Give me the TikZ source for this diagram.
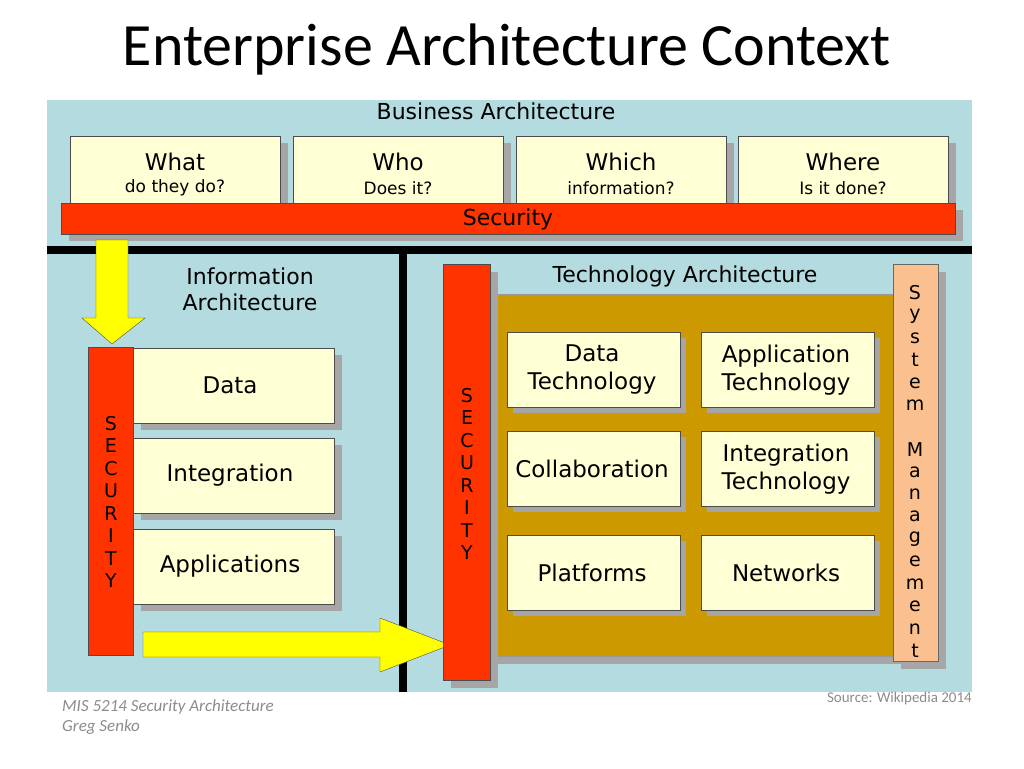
\documentclass[tikz,border=0pt]{standalone}
\usepackage{fontspec}
\setmainfont{DejaVu Sans}
\newfontfamily\calib{Carlito}
\begin{document}
\begin{tikzpicture}[x=1pt,y=-1pt,
  cream/.style={draw=black!70,line width=0.6pt,fill=boxc},
  shad/.style={fill=black!35,draw=none},
  lab/.style={font=\fontsize{22}{26}\selectfont,align=center,inner sep=0},
  slet/.style={font=\fontsize{19}{19}\selectfont,inner sep=0}]
\definecolor{bgc}{HTML}{B4DCE0}
\definecolor{boxc}{HTML}{FFFFD5}
\definecolor{secc}{HTML}{FF3300}
\definecolor{gold}{HTML}{CC9900}
\definecolor{peach}{HTML}{FAC090}
\definecolor{ylw}{HTML}{FFFF00}
\useasboundingbox (0,0) rectangle (1024,768);
\fill[white] (0,0) rectangle (1024,768);
\node[font=\calib\fontsize{60}{62}\selectfont] (title) at (507,50) {Enterprise Architecture Context};
\fill[bgc] (47,100) rectangle (972,692);
\node[lab] (ba) at (496,111) {Business Architecture};
% top boxes
\foreach \x/\a/\b/\n in {70/What/do they do?/t1,293/Who/Does it?/t2,516/Which/information?/t3,738/Where/Is it done?/t4}{
  \fill[shad] (\x+8,143) rectangle (\x+218,210);
  \node[cream,minimum width=210,minimum height=67,anchor=north west,inner sep=0] (\n) at (\x,136) {};
  \node[lab,font=\fontsize{23}{24}\selectfont] at (\x+105,162) {\a};
  \node[lab,font=\fontsize{17}{18}\selectfont] at (\x+105,188) {\b};
}
\fill[shad] (69,210) rectangle (963,241);
\node[draw=black!70,fill=secc,minimum width=894,minimum height=31,anchor=north west,inner sep=0] (sec) at (61,203) {};
\node[lab] at (508,219) {Security};
% black dividers
\fill[black] (47,246) rectangle (972,254);
\fill[black] (399,254) rectangle (407,692);
% down arrow
\draw[black!70,fill=ylw] (96,240) -- (128,240) -- (128,318) -- (145,318) -- (112,344) -- (82,318) -- (96,318) -- cycle;
\node[lab] (ia) at (250,289) {Information\\Architecture};
% left security
\node[draw=black!70,fill=secc,minimum width=45,minimum height=308,anchor=north west,inner sep=0] (lsec) at (88,347) {};
\foreach \l [count=\i] in {S,E,C,U,R,I,T,Y}
  \node[slet] at (111,401+\i*22.5) {\l};
\foreach \y/\t/\n in {348/Data/ld,438/Integration/li,529/Applications/la}{
  \fill[shad] (141,\y+7) rectangle (342,\y+82);
  \node[cream,minimum width=201,minimum height=75,anchor=north west,inner sep=0] (\n) at (133,\y) {};
  \node[lab,font=\fontsize{23}{24}\selectfont] at (230,\y+37) {\t};
}
% right arrow
\draw[black!70,fill=ylw] (143,632) -- (380,632) -- (380,618) -- (450,645) -- (380,672) -- (380,657) -- (143,657) -- cycle;
% right side
\fill[shad] (498,302) rectangle (901,664);
\node[fill=gold,draw=black!40,minimum width=403,minimum height=362,anchor=north west,inner sep=0] (gold) at (490,294) {};
\fill[shad] (451,272) rectangle (498,688);
\node[draw=black!70,fill=secc,minimum width=47,minimum height=416,anchor=north west,inner sep=0] (rsec) at (443,264) {};
\foreach \l [count=\i] in {S,E,C,U,R,I,T,Y}
  \node[slet] at (467,373+\i*22.5) {\l};
\node[lab] (ta) at (685,276) {Technology Architecture};
\foreach \x/\y/\t/\n in {507/332/Data\\Technology/b1,701/332/Application\\Technology/b2,507/431/Collaboration/b3,701/431/Integration\\Technology/b4,507/535/Platforms/b5,701/535/Networks/b6}{
  \fill[shad] (\x+6,\y+6) rectangle (\x+179,\y+81);
  \node[cream,minimum width=173,minimum height=75,anchor=north west,inner sep=0] (\n) at (\x,\y) {};
  \node[lab,font=\fontsize{23}{28}\selectfont] at (\x+85,\y+38) {\t};
}
\fill[shad] (901,272) rectangle (946,669);
\node[draw=black!60,fill=peach,minimum width=45,minimum height=397,anchor=north west,inner sep=0] (sm) at (893,264) {};
\foreach \l/\y in {S/293,y/316,s/338,t/360,e/383,m/405,M/450,a/472,n/494,a/516,g/539,e/561,m/584,e/606,n/629,t/651}
  \node[slet] at (915,\y) {\l};
\node[font=\calib\fontsize{15}{16}\selectfont,text=black!45,anchor=east,inner sep=0] (src) at (972,698) {Source: Wikipedia 2014};
\node[font=\calib\itshape\fontsize{17}{20}\selectfont,text=black!45,anchor=north west,align=left,inner sep=0] (ft) at (62,699) {MIS 5214 Security Architecture\\Greg Senko};
\end{tikzpicture}
\end{document}
